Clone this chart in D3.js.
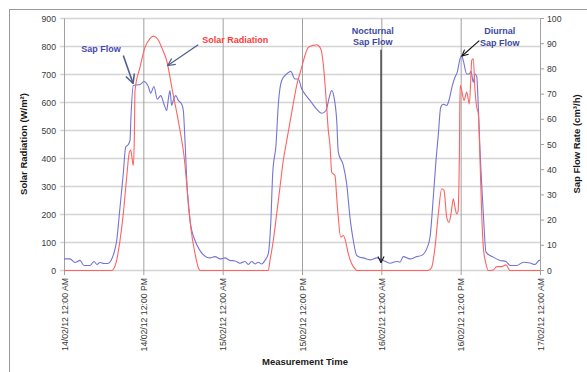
<!DOCTYPE html>
<html lang="en">
<head>
<meta charset="UTF-8">
<title>Solar Radiation and Sap Flow</title>
<script src="https://d3js.org/d3.v7.min.js"></script>
<style>
    body { margin: 0; background: #fff; }
    svg { font-family: "Liberation Sans", Arial, sans-serif; }
    .tick-label { font-size: 8.7px; fill: #3a3a3a; }
    .axis-title { font-size: 9.5px; font-weight: bold; fill: #1a1a1a; }
    .note { font-size: 9px; font-weight: bold; }
</style>
</head>
<body>
<svg width="587" height="372"></svg>
<script>
    // hours since 14/02/12 12:00 AM
    let xTickHours = [0, 12, 24, 36, 48, 60, 72];
    let xTickLabels = ["14/02/12 12:00 AM", "14/02/12 12:00 PM", "15/02/12 12:00 AM", "15/02/12 12:00 PM",
        "16/02/12 12:00 AM", "16/02/12 12:00 PM", "17/02/12 12:00 AM"];
    let solarTicks = [0, 100, 200, 300, 400, 500, 600, 700, 800, 900];
    let sapTicks = [0, 10, 20, 30, 40, 50, 60, 70, 80, 90, 100];

    // Solar radiation (W/m2)
    let solarHours = [0, 7.2, 7.9, 8.47, 8.97, 9.48, 9.88, 10.09, 10.3, 10.48, 10.63, 10.74, 11.5, 12.25, 13.0, 13.51,
        14.22, 14.8, 15.53, 16.34, 17.55, 18.15, 18.75, 19.2, 19.82, 20.4, 20.6,
        30.9, 31.16, 31.66, 32.17, 32.67, 33.17, 33.69, 34.45, 35.2, 35.96, 36.45, 36.95, 37.71, 38.22, 38.83, 39.22,
        39.63, 39.98, 40.24, 40.49, 40.99, 41.25, 41.49, 41.85, 42.25, 42.5, 43.0, 43.52, 44.02, 44.3,
        55.1, 55.62, 56.12, 56.62, 57.13, 57.48, 57.89, 58.24, 58.54, 58.89, 59.14, 59.4, 59.6, 59.8, 59.92, 60.16,
        60.51, 60.91, 61.31, 61.56, 61.67, 61.91, 62.17, 62.43, 62.67, 62.93, 63.18, 63.43, 63.83, 64.18, 64.94,
        65.45, 66.2, 66.86, 67.46, 72];
    let solarValues = [0, 0, 30, 107, 203, 333, 422, 430, 400, 375, 464, 643, 726, 797, 828, 837,
        825, 795, 750, 650, 500, 410, 260, 150, 60, 5, 0,
        0, 36, 107, 202, 298, 393, 464, 565, 661, 726, 768, 797, 804, 806, 792, 738,
        619, 500, 445, 351, 339, 262, 190, 119, 125, 113, 60, 24, 6, 0,
        0, 12, 83, 202, 292, 286, 190, 172, 202, 256, 226, 202, 210, 400, 661, 643,
        607, 637, 595, 700, 750, 756, 643, 583, 560, 393, 202, 83, 24, 0, 2,
        14, 14, 20, 0, 0];

    // Sap flow rate (cm3/h)
    let sapHours = [0, 0.9, 1.66, 2.42, 3.03, 3.93, 4.54, 4.99, 5.45, 6.05, 6.66, 7.11, 7.56, 7.97, 8.47, 8.97,
        9.33, 9.73, 9.98, 10.13, 10.48, 11.5, 12.1, 12.75, 13.11, 13.61, 14.11, 14.63, 15.13, 15.53, 15.78, 16.03,
        16.29, 16.53, 16.9, 17.29, 17.8, 18.05, 18.3, 18.65, 19.06, 19.82, 20.57, 21.59, 22.08, 22.84, 23.6, 24.35,
        25.11, 25.87, 26.62, 27.38, 27.88, 28.39, 28.89, 29.39, 29.9, 30.4, 30.9, 31.27, 31.57, 32.07, 32.42, 32.93,
        33.69, 34.29, 34.94, 35.44, 35.96, 36.45, 37.21, 38.22, 38.98, 39.63, 40.13, 40.49, 40.84, 41.25, 41.49,
        42.25, 42.76, 43.26, 43.76, 44.27, 44.77, 45.27, 46.29, 47.3, 48.3, 49.31, 50.33, 50.82, 51.32, 52.34, 53.35,
        54.1, 54.86, 55.36, 55.86, 56.27, 56.62, 56.98, 57.37, 57.89, 58.28, 58.74, 59.14, 59.49, 59.9, 60.16, 60.4,
        60.91, 61.31, 61.56, 61.91, 62.17, 62.43, 62.67, 62.93, 63.43, 63.83, 64.94, 65.95, 66.86, 67.46, 68.48,
        69.48, 70.49, 71.25, 71.9, 72];
    let sapValues = [4.6, 4.6, 3.2, 4, 2, 2, 3.6, 2.4, 3.2, 2.8, 2.8, 4, 7, 11.9, 25, 38.5,
        49, 50, 51.6, 61, 73.4, 73.8, 75, 73, 70.4, 73, 68, 69.4, 66, 63.5, 68, 71.4,
        65.5, 67.5, 69.4, 67.5, 66, 63.5, 51.6, 31.7, 19.8, 11.9, 7.9, 5.3, 5, 5.5, 4.6, 5,
        4, 3.8, 2.9, 3.6, 2.4, 3.6, 2.6, 3.3, 2.6, 4, 6.7, 18.6, 38.5, 50, 66, 75.4,
        78, 79, 76, 76, 72, 70, 67.5, 64, 62.4, 63.5, 68.8, 71.4, 68.8, 59.5, 47,
        41.7, 34.4, 21, 11.9, 6, 5.3, 5, 4.2, 5, 4, 2.9, 3.6, 3.3, 5.5, 4.6, 5.5,
        6, 8.6, 13.2, 29, 43.7, 54, 64.8, 66, 65.5, 68, 73.4, 76.7, 78.7, 84, 85.3, 83.3,
        78, 78, 79, 74.7, 78, 77, 64.8, 47.6, 22.5, 7.3, 5.3, 4, 3.6, 2, 2,
        3.3, 3, 2.4, 4, 4];

    let svg = d3.select('svg');
    let xScale = d3.scaleLinear().domain([0, 72]).range([64, 540]);
    let yLeft = d3.scaleLinear().domain([0, 900]).range([270.5, 18.5]);
    let yRight = d3.scaleLinear().domain([0, 100]).range([270.5, 18.5]);

    // outer frame
    svg.append('rect').attr('x', 9.5).attr('y', 9.5).attr('width', 620).attr('height', 420)
        .attr('fill', 'none').attr('stroke', '#9a9a9a');

    // horizontal grid
    svg.append('g').selectAll('line').data(solarTicks).join('line')
        .attr('x1', 60).attr('x2', 540)
        .attr('y1', d => yLeft(d)).attr('y2', d => yLeft(d))
        .attr('stroke', '#d4d4d4').attr('stroke-width', 1.6);
    // vertical grid
    svg.append('g').selectAll('line').data(xTickHours).join('line')
        .attr('x1', d => xScale(d) + 0.5).attr('x2', d => xScale(d) + 0.5)
        .attr('y1', 18.5).attr('y2', 275)
        .attr('stroke', '#a0a0a0').attr('stroke-width', 1);
    // right tick marks
    svg.append('g').selectAll('line').data(sapTicks).join('line')
        .attr('x1', 540).attr('x2', 544)
        .attr('y1', d => yRight(d)).attr('y2', d => yRight(d))
        .attr('stroke', '#a0a0a0');

    // tick labels
    svg.append('g').selectAll('text').data(solarTicks).join('text')
        .attr('class', 'tick-label').attr('x', 56).attr('y', d => yLeft(d) + 3)
        .attr('text-anchor', 'end').text(d => d);
    svg.append('g').selectAll('text').data(sapTicks).join('text')
        .attr('class', 'tick-label').attr('x', 547).attr('y', d => yRight(d) + 3)
        .text(d => d);
    svg.append('g').selectAll('text').data(xTickHours).join('text')
        .attr('class', 'tick-label')
        .attr('transform', d => 'translate(' + (xScale(d) + 3.5) + ',278) rotate(-90)')
        .attr('text-anchor', 'end').text((d, i) => xTickLabels[i]);

    // axis titles
    svg.append('text').attr('class', 'axis-title').attr('text-anchor', 'middle')
        .attr('transform', 'translate(27,144) rotate(-90)').text('Solar Radiation (W/m\u00B2)');
    svg.append('text').attr('class', 'axis-title').attr('text-anchor', 'middle')
        .attr('transform', 'translate(580,144) rotate(-90)').text('Sap Flow Rate (cm\u00B3/h)');
    svg.append('text').attr('class', 'axis-title').attr('text-anchor', 'middle')
        .attr('x', 305).attr('y', 365).text('Measurement Time');

    // series
    let solarData = solarHours.map((h, i) => ({h: h, v: solarValues[i]}));
    let sapData = sapHours.map((h, i) => ({h: h, v: sapValues[i]}));
    let solarLine = d3.line().x(d => xScale(d.h)).y(d => yLeft(d.v)).curve(d3.curveMonotoneX);
    let sapLine = d3.line().x(d => xScale(d.h)).y(d => yRight(d.v)).curve(d3.curveMonotoneX);
    svg.append('path').datum(sapData).attr('d', sapLine)
        .attr('fill', 'none').attr('stroke', '#7474d4').attr('stroke-width', 1.1);
    svg.append('path').datum(solarData).attr('d', solarLine)
        .attr('fill', 'none').attr('stroke', '#ff6262').attr('stroke-width', 1.1);

    // annotations (positions in data units: hours, W/m2)
    let defs = svg.append('defs');
    [['arrowSlate', '#4f5f8f'], ['arrowBlack', '#111']].forEach(function (m) {
        defs.append('marker').attr('id', m[0]).attr('viewBox', '0 0 10 10')
            .attr('refX', 9).attr('refY', 5).attr('markerWidth', 7).attr('markerHeight', 7)
            .attr('orient', 'auto-start-reverse')
            .append('path').attr('d', 'M1,1 L9,5 L1,9').attr('fill', 'none')
            .attr('stroke', m[1]).attr('stroke-width', 1.4);
    });
    let arrows = [
        {from: [8.97, 768], to: [10.45, 668], color: '#4f5f8f', marker: 'arrowSlate', w: 1.6},
        {from: [20.3, 806], to: [15.69, 732], color: '#4f5f8f', marker: 'arrowSlate', w: 1.3},
        {from: [47.95, 788], to: [47.95, 28], color: '#111', marker: 'arrowBlack', w: 1.1},
        {from: [62.82, 821], to: [60.2, 766], color: '#111', marker: 'arrowBlack', w: 1.1}
    ];
    svg.append('g').selectAll('line').data(arrows).join('line')
        .attr('x1', d => xScale(d.from[0])).attr('y1', d => yLeft(d.from[1]))
        .attr('x2', d => xScale(d.to[0])).attr('y2', d => yLeft(d.to[1]))
        .attr('stroke', d => d.color).attr('stroke-width', d => d.w)
        .attr('marker-end', d => 'url(#' + d.marker + ')');

    let notes = [
        {text: 'Sap Flow', h: 5.6, v: 781, color: '#4848b0'},
        {text: 'Solar Radiation', h: 25.9, v: 813, color: '#ff3a3a'},
        {text: 'Nocturnal', h: 46.7, v: 846, color: '#3c4aa0'},
        {text: 'Sap Flow', h: 46.7, v: 807, color: '#3c4aa0'},
        {text: 'Diurnal', h: 65.9, v: 843, color: '#3c4aa0'},
        {text: 'Sap Flow', h: 65.9, v: 803, color: '#3c4aa0'}
    ];
    svg.append('g').selectAll('text').data(notes).join('text')
        .attr('class', 'note').attr('text-anchor', 'middle')
        .attr('x', d => xScale(d.h)).attr('y', d => yLeft(d.v))
        .attr('fill', d => d.color).text(d => d.text);
</script>
</body>
</html>
